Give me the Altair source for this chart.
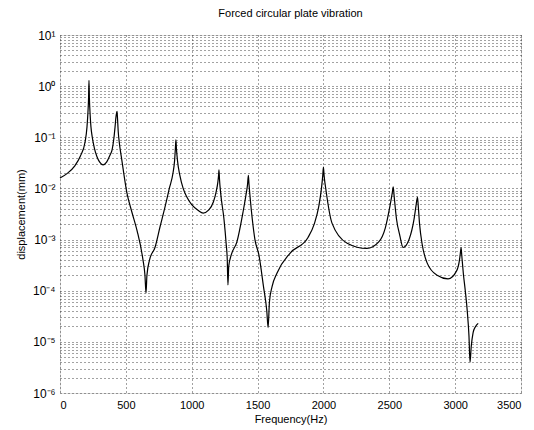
import altair as alt
import pandas as pd

freq_hz = [0, 53, 114, 155, 190, 205, 212, 217, 220, 223, 228, 235, 245, 260, 280, 300, 327, 355, 380,
           395, 410, 418, 425, 430, 433, 436, 442, 450, 470, 508, 545, 585, 630, 645, 653, 660, 680,
           721, 760, 797, 830, 858, 870, 876, 880, 884, 892, 910, 935, 963, 1000, 1050, 1087, 1130, 1165,
           1185, 1198, 1204, 1207, 1211, 1220, 1245, 1262, 1270, 1275, 1281, 1300, 1343, 1390, 1412, 1424,
           1430, 1435, 1445, 1460, 1480, 1510, 1545, 1570, 1580, 1590, 1610, 1647, 1746, 1883, 1930, 1965,
           1985, 1995, 2000, 2005, 2020, 2065, 2180, 2330, 2420, 2470, 2505, 2522, 2530, 2537, 2555, 2580,
           2605, 2650, 2688, 2705, 2714, 2720, 2730, 2750, 2787, 2863, 2946, 3013, 3033, 3041, 3045,
           3050, 3062, 3077, 3092, 3105, 3113, 3122, 3136, 3155, 3175]
disp_mm = [0.016, 0.0195, 0.028, 0.043, 0.08, 0.16, 0.3, 0.6, 1.3, 0.6, 0.3, 0.16, 0.1, 0.063, 0.042,
           0.033, 0.029, 0.033, 0.045, 0.056, 0.1, 0.16, 0.25, 0.3, 0.32, 0.25, 0.13, 0.08, 0.035, 0.0082,
           0.0035, 0.0015, 0.0004, 0.0002, 0.00009, 0.0002, 0.0004, 0.0007, 0.0018, 0.0043, 0.01, 0.02,
           0.035, 0.06, 0.089, 0.06, 0.035, 0.018, 0.01, 0.0068, 0.0048, 0.0037, 0.0033, 0.0038, 0.0055,
           0.0085, 0.013, 0.018, 0.023, 0.015, 0.008, 0.0025, 0.0008, 0.0004, 0.00013, 0.0003, 0.0005,
           0.0009, 0.0035, 0.0075, 0.012, 0.018, 0.012, 0.006, 0.0025, 0.001, 0.0005, 0.00012, 0.00004,
           0.000019, 0.00006, 0.00012, 0.00022, 0.00054, 0.0011, 0.002, 0.0045, 0.01, 0.018, 0.026, 0.018,
           0.009, 0.0021, 0.00085, 0.00067, 0.0009, 0.0017, 0.0045, 0.008, 0.0107, 0.007, 0.0025, 0.0012,
           0.0007, 0.001, 0.0025, 0.005, 0.0068, 0.0045, 0.002, 0.0008, 0.00035, 0.0002, 0.00017, 0.00025,
           0.0004, 0.00058, 0.0007, 0.0005, 0.00022, 0.0001, 0.00004, 0.000013, 0.000004, 0.000008,
           0.000015, 0.00002, 0.000023]

x_ticks = [0, 500, 1000, 1500, 2000, 2500, 3000, 3500]
y_ticks = [m * 10.0 ** k for k in range(-6, 1) for m in range(1, 10)] + [10.0]

df = pd.DataFrame({"f": freq_hz, "d": disp_mm})

label_expr = (
    "abs(log(datum.value)/LN10 - round(log(datum.value)/LN10)) > 0.001 ? '' : "
    "'10' + (round(log(datum.value)/LN10) == 1 ? '¹' : "
    "round(log(datum.value)/LN10) == 0 ? '⁰' : "
    "round(log(datum.value)/LN10) == -1 ? '⁻¹' : "
    "round(log(datum.value)/LN10) == -2 ? '⁻²' : "
    "round(log(datum.value)/LN10) == -3 ? '⁻³' : "
    "round(log(datum.value)/LN10) == -4 ? '⁻⁴' : "
    "round(log(datum.value)/LN10) == -5 ? '⁻⁵' : '⁻⁶')"
)

font = "Liberation Sans"

chart = alt.Chart(df).mark_line(color="black", strokeWidth=1.2, interpolate="monotone").encode(
    x=alt.X("f:Q", scale=alt.Scale(domain=[0, 3500], nice=False),
            axis=alt.Axis(values=x_ticks, format="d", title="Frequency(Hz)", grid=True, gridColor="#444",
                          gridDash=[1, 3], gridWidth=1, ticks=False, labelPadding=6,
                          labelFont=font, labelFontSize=11, titleFont=font, titleFontSize=11,
                          titleFontWeight="normal", titleColor="black", labelColor="black",
                          domain=False, titlePadding=3)),
    y=alt.Y("d:Q", scale=alt.Scale(type="log", domain=[1e-6, 10], nice=False),
            axis=alt.Axis(values=y_ticks, labelExpr=label_expr, title="displacement(mm)", grid=True,
                          gridColor="#444", gridDash=[1, 3], gridWidth=1, ticks=False, labelPadding=5,
                          labelFont=font, labelFontSize=12, titleFont=font, titleFontSize=11,
                          titleFontWeight="normal", titleColor="black", labelColor="black",
                          domain=False, titlePadding=6, labelOverlap=False)),
).properties(
    width=461, height=358,
    title=alt.Title("Forced circular plate vibration", font=font, fontSize=11, fontWeight="normal",
                    color="black", offset=10),
    padding={"left": 60, "top": 35, "right": 13, "bottom": 37},
    autosize=alt.AutoSizeParams(type="none"),
).configure_view(stroke="black", strokeWidth=1.5).configure(background="white")

chart.save("out.html", embed_options={"renderer": "svg", "actions": False})
